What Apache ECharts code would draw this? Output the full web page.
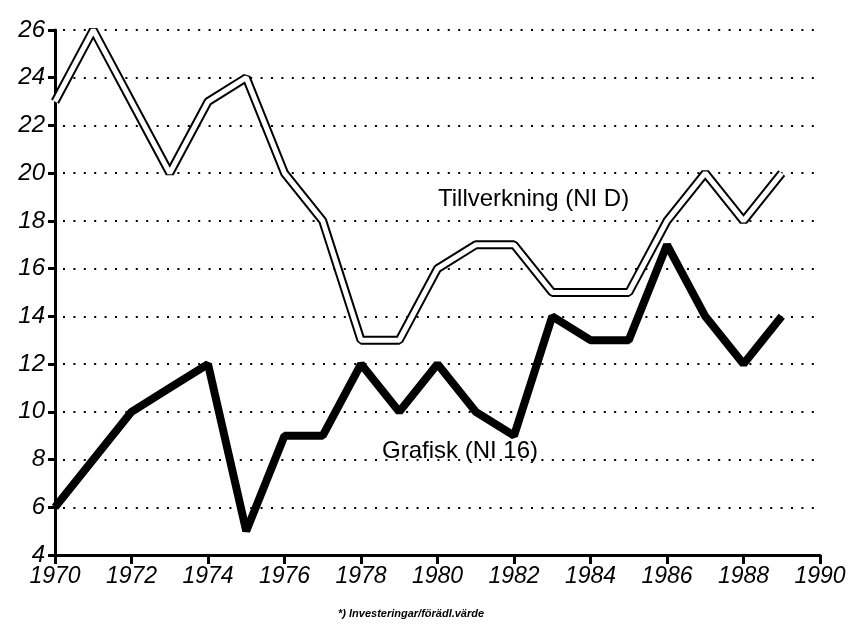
<!DOCTYPE html>
<html>
<head>
<meta charset="utf-8">
<script src="https://cdn.jsdelivr.net/npm/echarts@6/dist/echarts.min.js"></script>
<style>html,body{margin:0;padding:0;background:#fff}#c{width:852px;height:631px}</style>
</head>
<body>
<div id="c"></div>
<script>
var years = [1970,1971,1972,1973,1974,1975,1976,1977,1978,1979,1980,1981,1982,1983,1984,1985,1986,1987,1988,1989];
var tillverkning = [23,26,23,20,23,24,20,18,13,13,16,17,17,15,15,15,18,20,18,20];
var grafisk = [6,8,10,11,12,5,9,9,12,10,12,10,9,14,13,13,17,14,12,14];
var labelTillverkning = 'Tillverkning (NI D)';
var labelGrafisk = 'Grafisk (NI 16)';
var footnote = '*) Investeringar/förädl.värde';

function pairs(vals){ return years.map(function(y,i){ return [y, vals[i]]; }); }

var chart = echarts.init(document.getElementById('c'));
var font = '"Liberation Sans", Arial, sans-serif';
chart.setOption({
  animation: false,
  backgroundColor: '#fff',
  grid: {left: 55, right: 32, top: 30, bottom: 76, containLabel: false},
  xAxis: {
    type: 'value', min: 1970, max: 1990, interval: 2,
    axisLine: {lineStyle: {color: '#000', width: 3}},
    axisTick: {show: true, inside: false, length: 9, lineStyle: {color: '#000', width: 3}},
    axisLabel: {color: '#000', fontSize: 23, fontStyle: 'italic', fontFamily: font, margin: 10,
      formatter: function(v){ return String(v); }},
    splitLine: {show: false}
  },
  yAxis: {
    type: 'value', min: 4, max: 26, interval: 2,
    axisLine: {show: true, lineStyle: {color: '#000', width: 3}},
    axisTick: {show: true, inside: false, length: 7, lineStyle: {color: '#000', width: 3}},
    axisLabel: {color: '#000', fontSize: 24, fontStyle: 'italic', fontFamily: font, margin: 10},
    splitLine: {show: true, lineStyle: {color: '#000', width: 2, type: [2, 8.4], dashOffset: -8}}
  },
  series: [
    {type: 'line', data: pairs(tillverkning), symbol: 'none', lineStyle: {color: '#000', width: 9}, z: 3},
    {type: 'line', data: pairs(tillverkning), symbol: 'none', lineStyle: {color: '#fff', width: 5}, z: 4},
    {type: 'line', data: pairs(grafisk), symbol: 'none', lineStyle: {color: '#000', width: 8}, z: 5}
  ],
  graphic: [
    {type: 'text', left: 438, top: 187, style: {text: labelTillverkning, font: '24px ' + font, fill: '#000'}},
    {type: 'text', left: 382, top: 439, style: {text: labelGrafisk, font: '24px ' + font, fill: '#000'}},
    {type: 'text', left: 338, top: 608, style: {text: footnote, font: 'italic bold 11px ' + font, fill: '#000'}}
  ]
});
</script>
</body>
</html>
